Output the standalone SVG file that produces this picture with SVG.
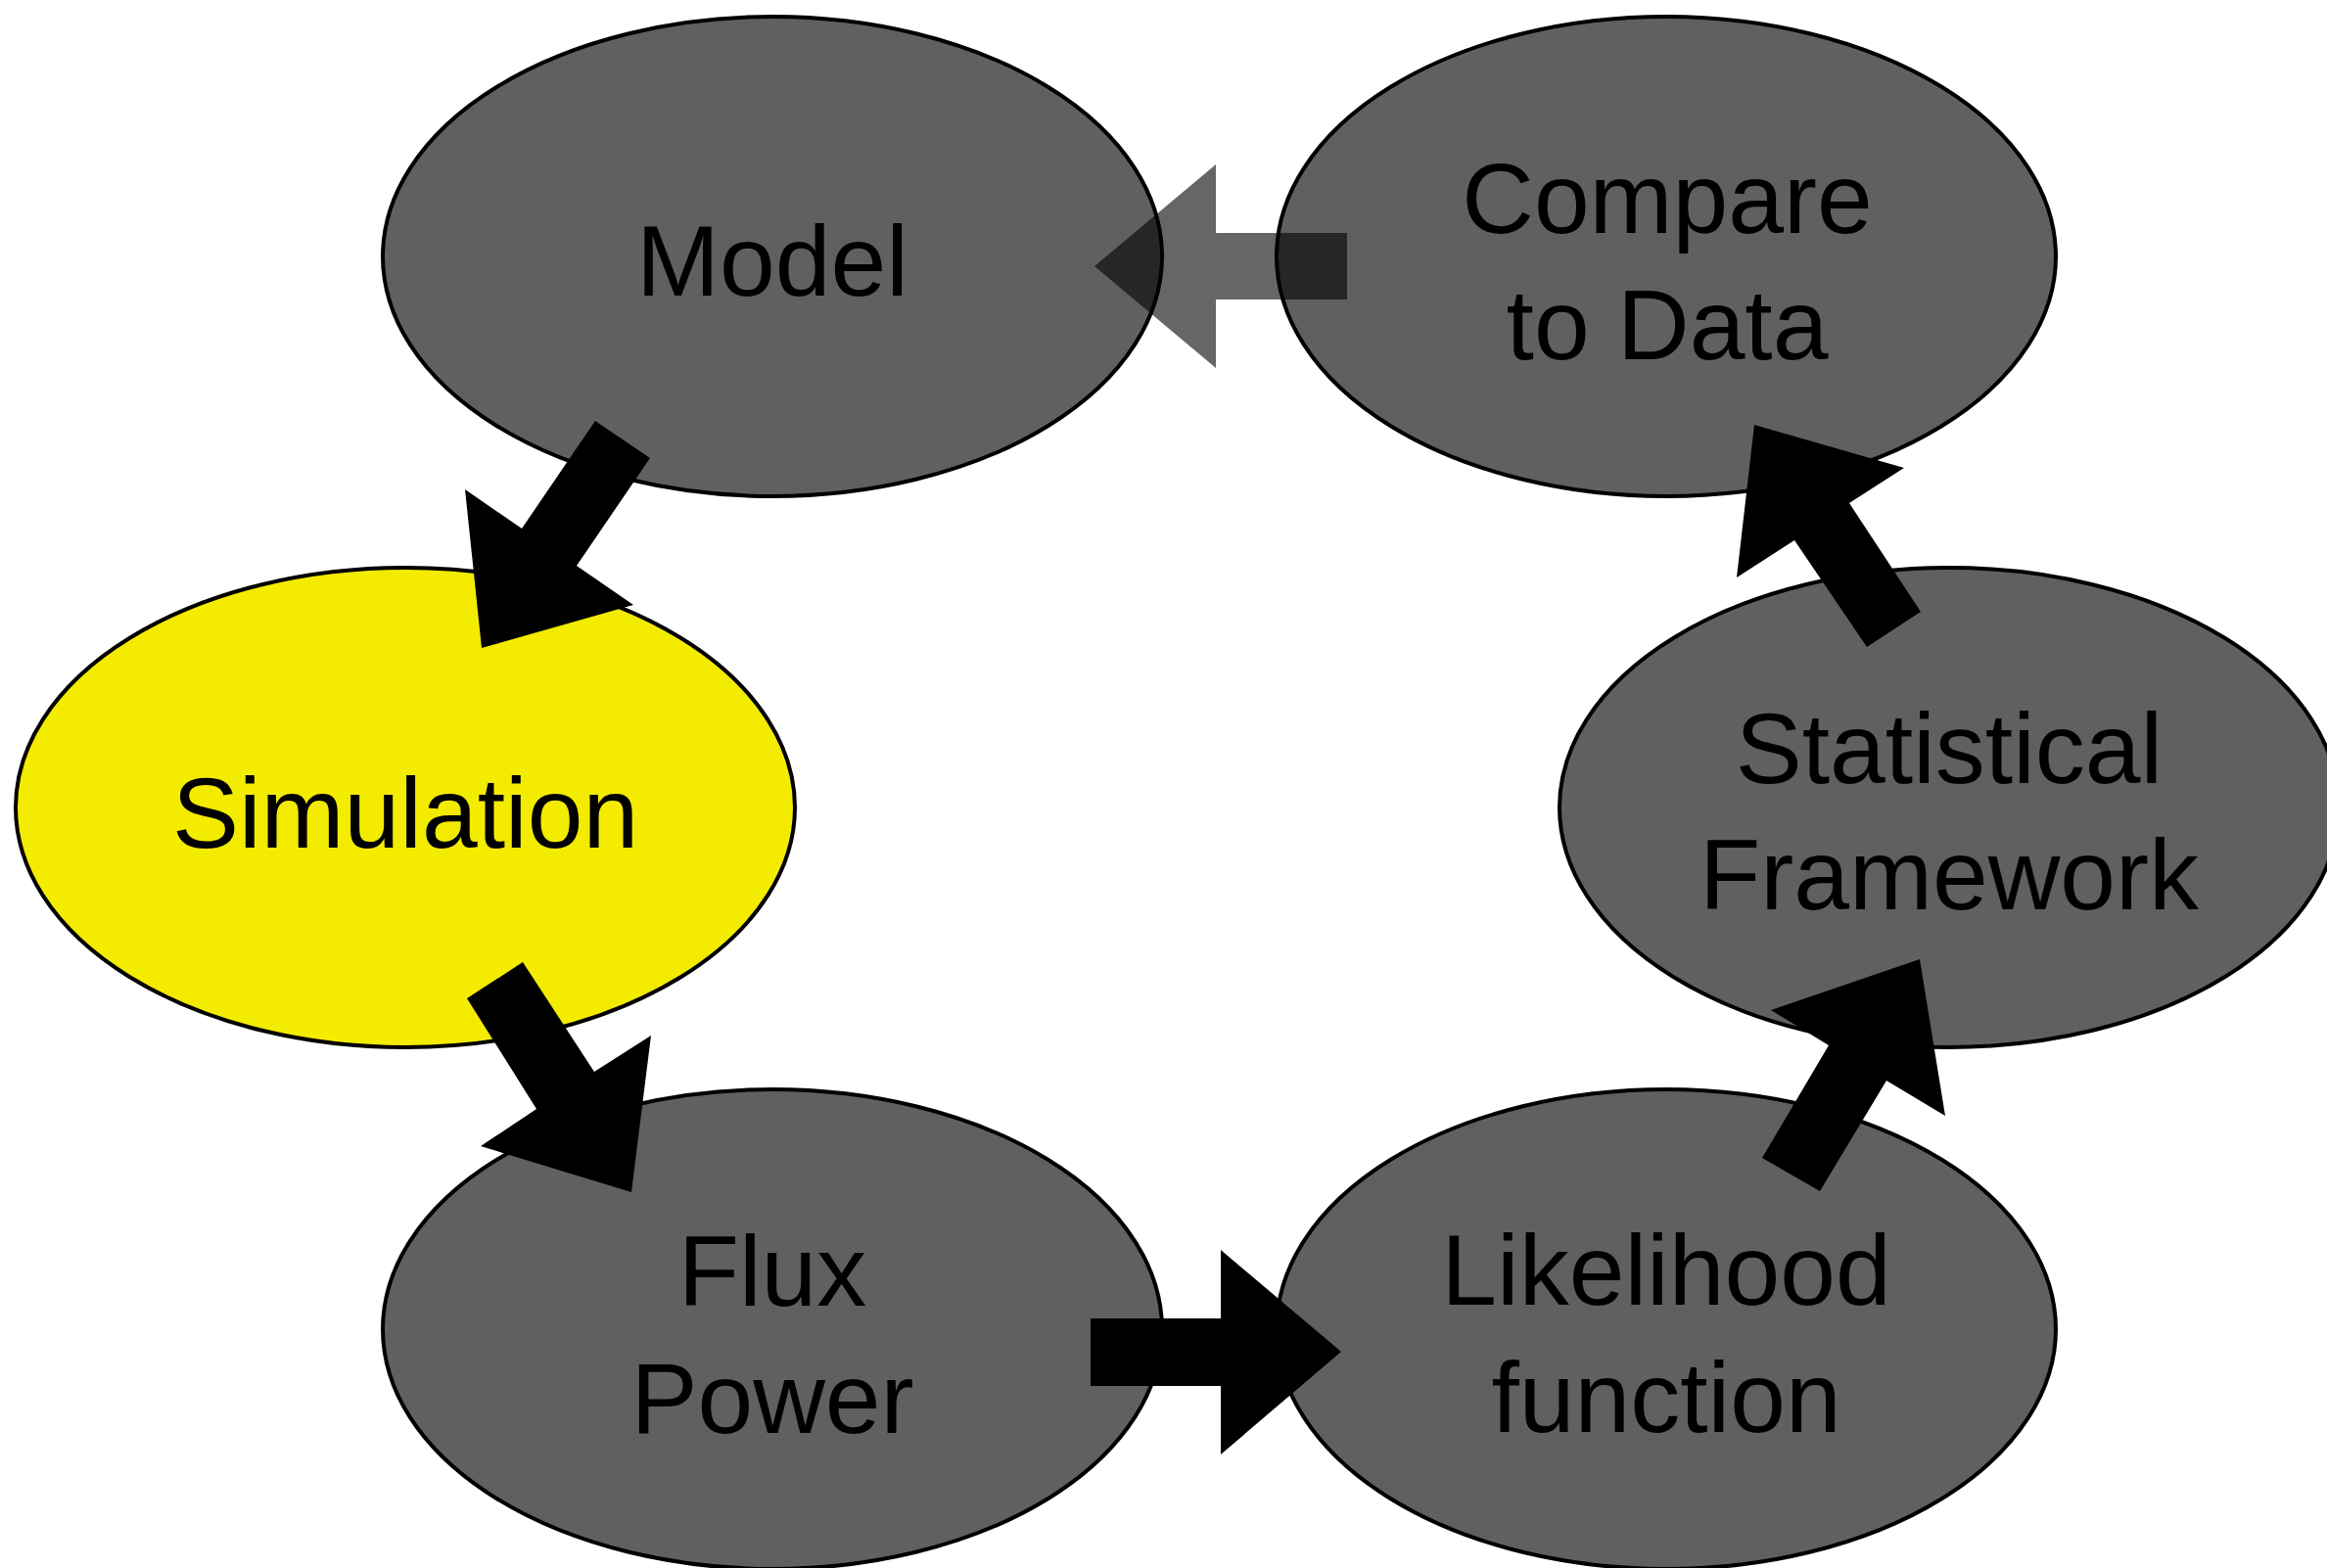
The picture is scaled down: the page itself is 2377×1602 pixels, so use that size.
<svg xmlns="http://www.w3.org/2000/svg" width="2377" height="1602" viewBox="0 0 2377 1602">
<style>
.node ellipse{stroke:#000;stroke-width:4}
.gray{fill:#606060}
.yellow{fill:#F3EB00}
.label{font-family:"Liberation Sans","DejaVu Sans",sans-serif;font-size:102px;fill:#000;text-anchor:middle}
.arrow{fill:#000}
.arrow-faded{fill:#000;fill-opacity:0.6}
</style>
<rect width="2377" height="1602" fill="#fff"/>
<g id="node-model" class="node">
<ellipse class="gray" cx="789" cy="262" rx="398" ry="245"/>
<text class="label" x="789" y="302">Model</text>
</g>
<g id="node-compare" class="node">
<ellipse class="gray" cx="1702" cy="262" rx="398" ry="245"/>
<text class="label" x="1703" y="238">Compare</text>
<text class="label" x="1703" y="367">to Data</text>
</g>
<g id="node-simulation" class="node">
<ellipse class="yellow" cx="414" cy="825" rx="398" ry="245"/>
<text class="label" x="414" y="866">Simulation</text>
</g>
<g id="node-statistical" class="node">
<ellipse class="gray" cx="1991" cy="825" rx="398" ry="245"/>
<text class="label" x="1991" y="800">Statistical</text>
<text class="label" x="1991" y="929">Framework</text>
</g>
<g id="node-flux" class="node">
<ellipse class="gray" cx="789" cy="1358" rx="398" ry="245"/>
<text class="label" x="789" y="1334">Flux</text>
<text class="label" x="789" y="1464">Power</text>
</g>
<g id="node-likelihood" class="node">
<ellipse class="gray" cx="1702" cy="1358" rx="398" ry="245"/>
<text class="label" x="1702" y="1333">Likelihood</text>
<text class="label" x="1702" y="1463">function</text>
</g>
<g id="connectors">
<polygon class="arrow" points="608,430 664,468 589,578 647,618 492,662 475,500 533,540"/>
<polygon class="arrow" points="477,1020 534,983 607,1095 665,1058 645,1218 491,1171 548,1133"/>
<polygon class="arrow" points="1114,1347 1247,1347 1247,1277 1370,1381 1247,1486 1247,1416 1114,1416"/>
<polygon class="arrow" points="1800,1183 1859,1217 1927,1104 1987,1140 1961,980 1809,1032 1868,1068"/>
<polygon class="arrow" points="1907,661 1962,625 1889,514 1945,478 1792,434 1774,590 1833,552"/>
<polygon class="arrow-faded" points="1376,238 1242,238 1242,168 1118,272 1242,376 1242,306 1376,306"/>
</g>
</svg>
